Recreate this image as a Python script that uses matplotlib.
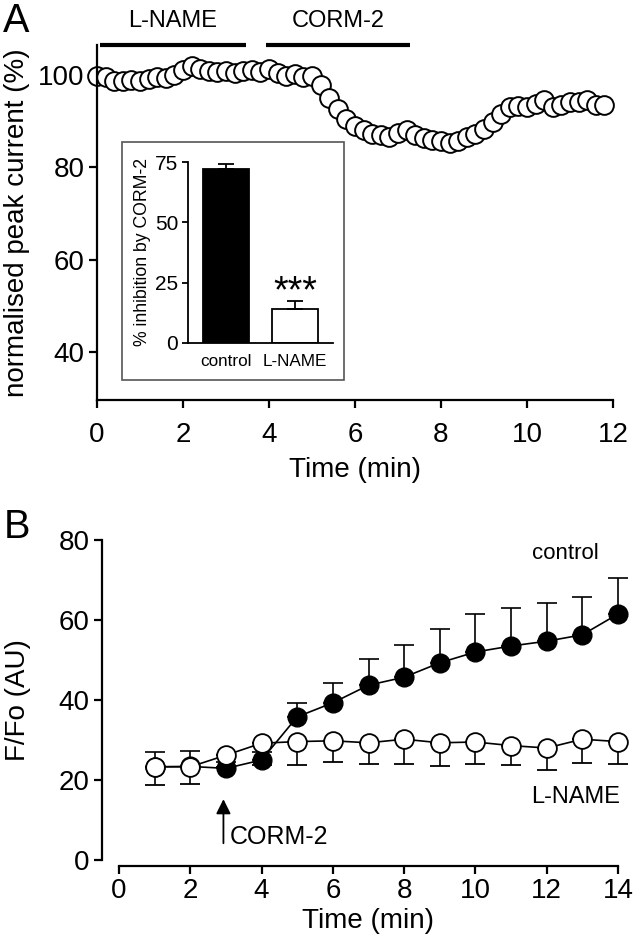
import matplotlib
matplotlib.use('Agg')
import matplotlib.pyplot as plt
from matplotlib.patches import Rectangle

plt.rcParams['font.family'] = ['Liberation Sans', 'DejaVu Sans']

# ---------------- Panel A data ----------------
time_a = [0.0, 0.2, 0.4, 0.6, 0.8, 1.0, 1.2, 1.4, 1.6, 1.8,
          2.0, 2.2, 2.4, 2.6, 2.8, 3.0, 3.2, 3.4, 3.6, 3.8,
          4.0, 4.2, 4.4, 4.6, 4.8, 5.0, 5.2, 5.4, 5.6, 5.8,
          6.0, 6.2, 6.4, 6.6, 6.8, 7.0, 7.2, 7.4, 7.6, 7.8,
          8.0, 8.2, 8.4, 8.6, 8.8, 9.0, 9.2, 9.4, 9.6, 9.8,
          10.0, 10.2, 10.4, 10.6, 10.8, 11.0, 11.2, 11.4, 11.6, 11.8]
current_a = [99.8, 99.5, 98.8, 98.6, 99.0, 98.7, 99.2, 99.5, 99.3, 100.0,
             101.0, 102.0, 101.3, 100.8, 100.6, 100.9, 100.5, 100.8, 101.0, 100.7,
             101.2, 100.4, 99.8, 100.2, 99.6, 99.8, 97.8, 95.0, 92.6, 90.5,
             89.0, 88.0, 87.2, 87.0, 86.6, 87.5, 88.0, 86.9, 86.3, 85.9,
             85.6, 85.2, 85.8, 86.5, 87.3, 88.2, 89.8, 91.5, 93.0, 93.3,
             93.0, 93.8, 94.6, 93.1, 93.5, 94.2, 94.2, 94.6, 93.5, 93.6]
drug_labels = ['L-NAME', 'CORM-2']
drug_start = [0.07, 3.93]
drug_end = [3.47, 7.28]

# Inset data
inset_groups = ['control', 'L-NAME']
inhibition = [72.1, 14.0]
inhibition_err = [1.9, 3.4]

# ---------------- Panel B data ----------------
time_b = [1, 2, 3, 4, 5, 6, 7, 8, 9, 10, 11, 12, 13, 14]
control_mean = [23.3, 23.4, 22.9, 25.0, 35.8, 39.3, 43.7, 45.7, 49.3, 52.0, 53.5, 54.7, 56.3, 61.5]
control_err = [3.6, 3.8, 1.5, 2.0, 3.5, 5.0, 6.5, 8.0, 8.5, 9.5, 9.5, 9.5, 9.5, 9.0]
lname_mean = [23.3, 23.3, 26.2, 29.2, 29.6, 29.8, 29.3, 30.2, 29.3, 29.5, 28.6, 28.0, 30.2, 29.6]
lname_err = [4.5, 4.2, 3.0, 5.4, 5.8, 5.4, 5.3, 6.2, 5.8, 5.5, 4.9, 5.6, 5.9, 5.7]

W, H = 633, 943
fig = plt.figure(figsize=(W / 100, H / 100), dpi=100)


def fig_rect(x0, y_top, x1, y_bot):
    return [x0 / W, 1 - y_bot / H, (x1 - x0) / W, (y_bot - y_top) / H]


def style(ax, fs=20):
    for s in ['top', 'right']:
        ax.spines[s].set_visible(False)
    for s in ['left', 'bottom']:
        ax.spines[s].set_linewidth(1.6)
    ax.tick_params(direction='out', length=6, width=1.6, labelsize=fs, pad=3)


# ---------------- Panel A ----------------
axA = fig.add_axes(fig_rect(97, 45, 613, 400))
style(axA)
axA.tick_params(axis='x', pad=10)
axA.plot(time_a, current_a, 'o', ms=13.5, mfc='white', mec='black', mew=1.4, clip_on=False)
axA.set_xlim(0, 12)
axA.set_ylim(29.6, 106.5)
axA.set_xticks(range(0, 13, 2))
axA.set_yticks([40, 60, 80, 100])
axA.set_xlabel('Time (min)', fontsize=20, labelpad=6)
axA.set_ylabel('normalised peak current (%)', fontsize=20, labelpad=6)
for lab, s, e in zip(drug_labels, drug_start, drug_end):
    axA.plot([s, e], [106.5, 106.5], color='black', lw=3, clip_on=False, solid_capstyle='butt')
    axA.text((s + e) / 2, 109.3, lab, fontsize=17, ha='center', va='bottom')
fig.text(3 / W, 1 - 31.5 / H, 'A', fontsize=28.5, ha='left', va='baseline')

# inset box
fig.patches.append(Rectangle((122 / W, 1 - 380 / H), 222 / W, 238 / H,
                             transform=fig.transFigure, fill=False,
                             edgecolor='#555555', lw=1.2))
axI = fig.add_axes(fig_rect(188, 162, 333, 343))
style(axI, fs=15)
axI.spines['left'].set_linewidth(1.3)
axI.spines['bottom'].set_linewidth(1.3)
axI.tick_params(width=1.3, length=4)
axI.bar([0, 1], inhibition, width=0.66, color=['black', 'white'], edgecolor='black', lw=1.3)
axI.errorbar([0, 1], inhibition, yerr=[[0, 0], inhibition_err], fmt='none', ecolor='black',
             elinewidth=1.3, capsize=5.5, capthick=1.3)
axI.set_xlim(-0.55, 1.55)
axI.set_ylim(0, 75)
axI.set_yticks([0, 25, 50, 75])
axI.set_xticks([0, 1])
axI.set_xticklabels(inset_groups, fontsize=12.3)
axI.tick_params(axis='x', length=0, pad=8)
axI.set_ylabel('% inhibition by CORM-2', fontsize=12.7, labelpad=3)
axI.text(1, 21, '***', fontsize=27, ha='center', va='center')

# ---------------- Panel B ----------------
axB = fig.add_axes(fig_rect(119, 540, 618, 860))
style(axB)
axB.spines['left'].set_position(('outward', 12))
axB.spines['bottom'].set_position(('outward', 4))
axB.errorbar(time_b, control_mean, yerr=[[0] * len(control_err), control_err], fmt='-o',
             color='black', ms=13.5, mfc='black', mec='black', lw=1.2, elinewidth=1.2,
             capsize=7, capthick=1.2, clip_on=False, zorder=3)
axB.errorbar(time_b, lname_mean, yerr=[lname_err, [0] * len(lname_err)], fmt='-o',
             color='black', ms=13.5, mfc='white', mec='black', mew=1.3, lw=1.2, elinewidth=1.2,
             capsize=7, capthick=1.2, clip_on=False, zorder=4)
axB.set_xlim(0, 14)
axB.set_ylim(0, 80)
axB.set_xticks(range(0, 15, 2))
axB.set_yticks(range(0, 81, 20))
axB.set_xlabel('Time (min)', fontsize=20, labelpad=3)
axB.set_ylabel('F/Fo (AU)', fontsize=20, labelpad=20)
axB.annotate('', xy=(2.93, 15.9), xytext=(2.93, 3.5),
             arrowprops=dict(arrowstyle='-|>', color='black', lw=1.3, mutation_scale=22))
axB.text(3.1, 5.8, 'CORM-2', fontsize=18, ha='left', va='center')
axB.text(13.45, 76.7, 'control', fontsize=16, ha='right', va='center')
axB.text(14.05, 15.8, 'L-NAME', fontsize=17, ha='right', va='center')
fig.text(4 / W, 1 - 527 / H, 'B', fontsize=28.5, ha='left', va='center')

fig.savefig('out.png', dpi=100)
